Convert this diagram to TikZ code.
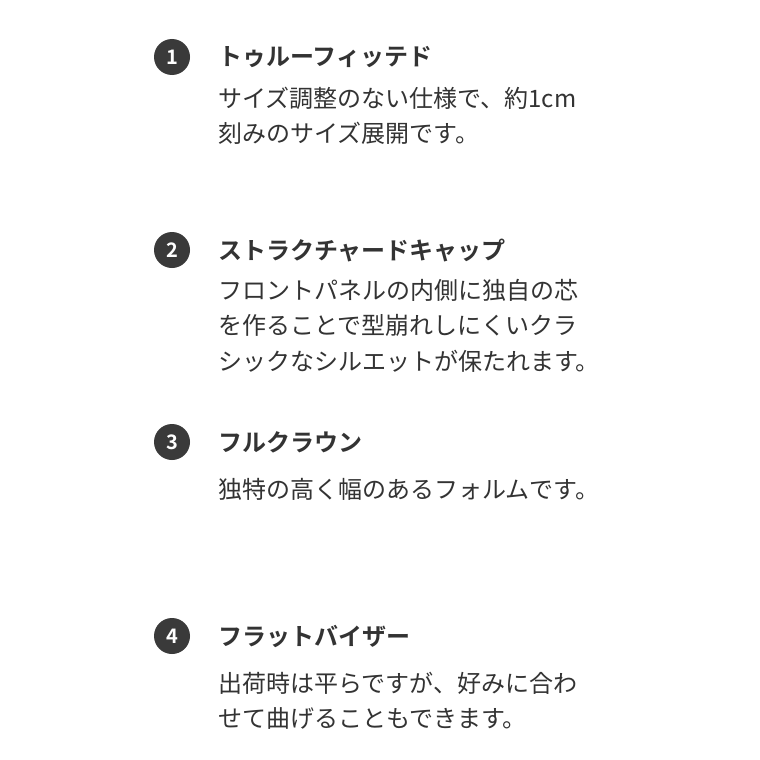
\documentclass[tikz,border=0pt]{standalone}
\usepackage{fontspec}
\newfontfamily\jp{Noto Sans CJK JP}
\newfontfamily\jpb{Noto Sans CJK JP Bold}
\definecolor{txt}{HTML}{333333}
\definecolor{dot}{HTML}{3A3A3A}
\begin{document}
\begin{tikzpicture}[x=1pt,y=-1pt,
  num/.style={circle,fill=dot,minimum size=36pt,inner sep=0pt,text=white,font=\jpb\fontsize{20}{20}\selectfont},
  ttl/.style={anchor=base west,inner sep=0pt,text=txt,font=\jpb\fontsize{24}{24}\selectfont},
  bdy/.style={anchor=base west,inner sep=0pt,text=txt,font=\jp\fontsize{24}{24}\selectfont}]
\useasboundingbox[fill=white] (0,0) rectangle (760,760);
\node[num] (n1) at (172,57) {1};
\node[ttl] (t1) at (218,66) {トゥルーフィッテド};
\node[bdy] (b1a) at (218,107) {サイズ調整のない仕様で、約1cm};
\node[bdy] (b1b) at (218,142) {刻みのサイズ展開です。};
\node[num] (n2) at (172,250) {2};
\node[ttl] (t2) at (218,259) {ストラクチャードキャップ};
\node[bdy] (b2a) at (218,299) {フロントパネルの内側に独自の芯};
\node[bdy] (b2b) at (218,334) {を作ることで型崩れしにくいクラ};
\node[bdy] (b2c) at (218,370) {シックなシルエットが保たれます。};
\node[num] (n3) at (172,442) {3};
\node[ttl] (t3) at (218,451) {フルクラウン};
\node[bdy] (b3a) at (218,498) {独特の高く幅のあるフォルムです。};
\node[num] (n4) at (172,636) {4};
\node[ttl] (t4) at (218,645) {フラットバイザー};
\node[bdy] (b4a) at (218,692) {出荷時は平らですが、好みに合わ};
\node[bdy] (b4b) at (218,727) {せて曲げることもできます。};
\end{tikzpicture}
\end{document}
